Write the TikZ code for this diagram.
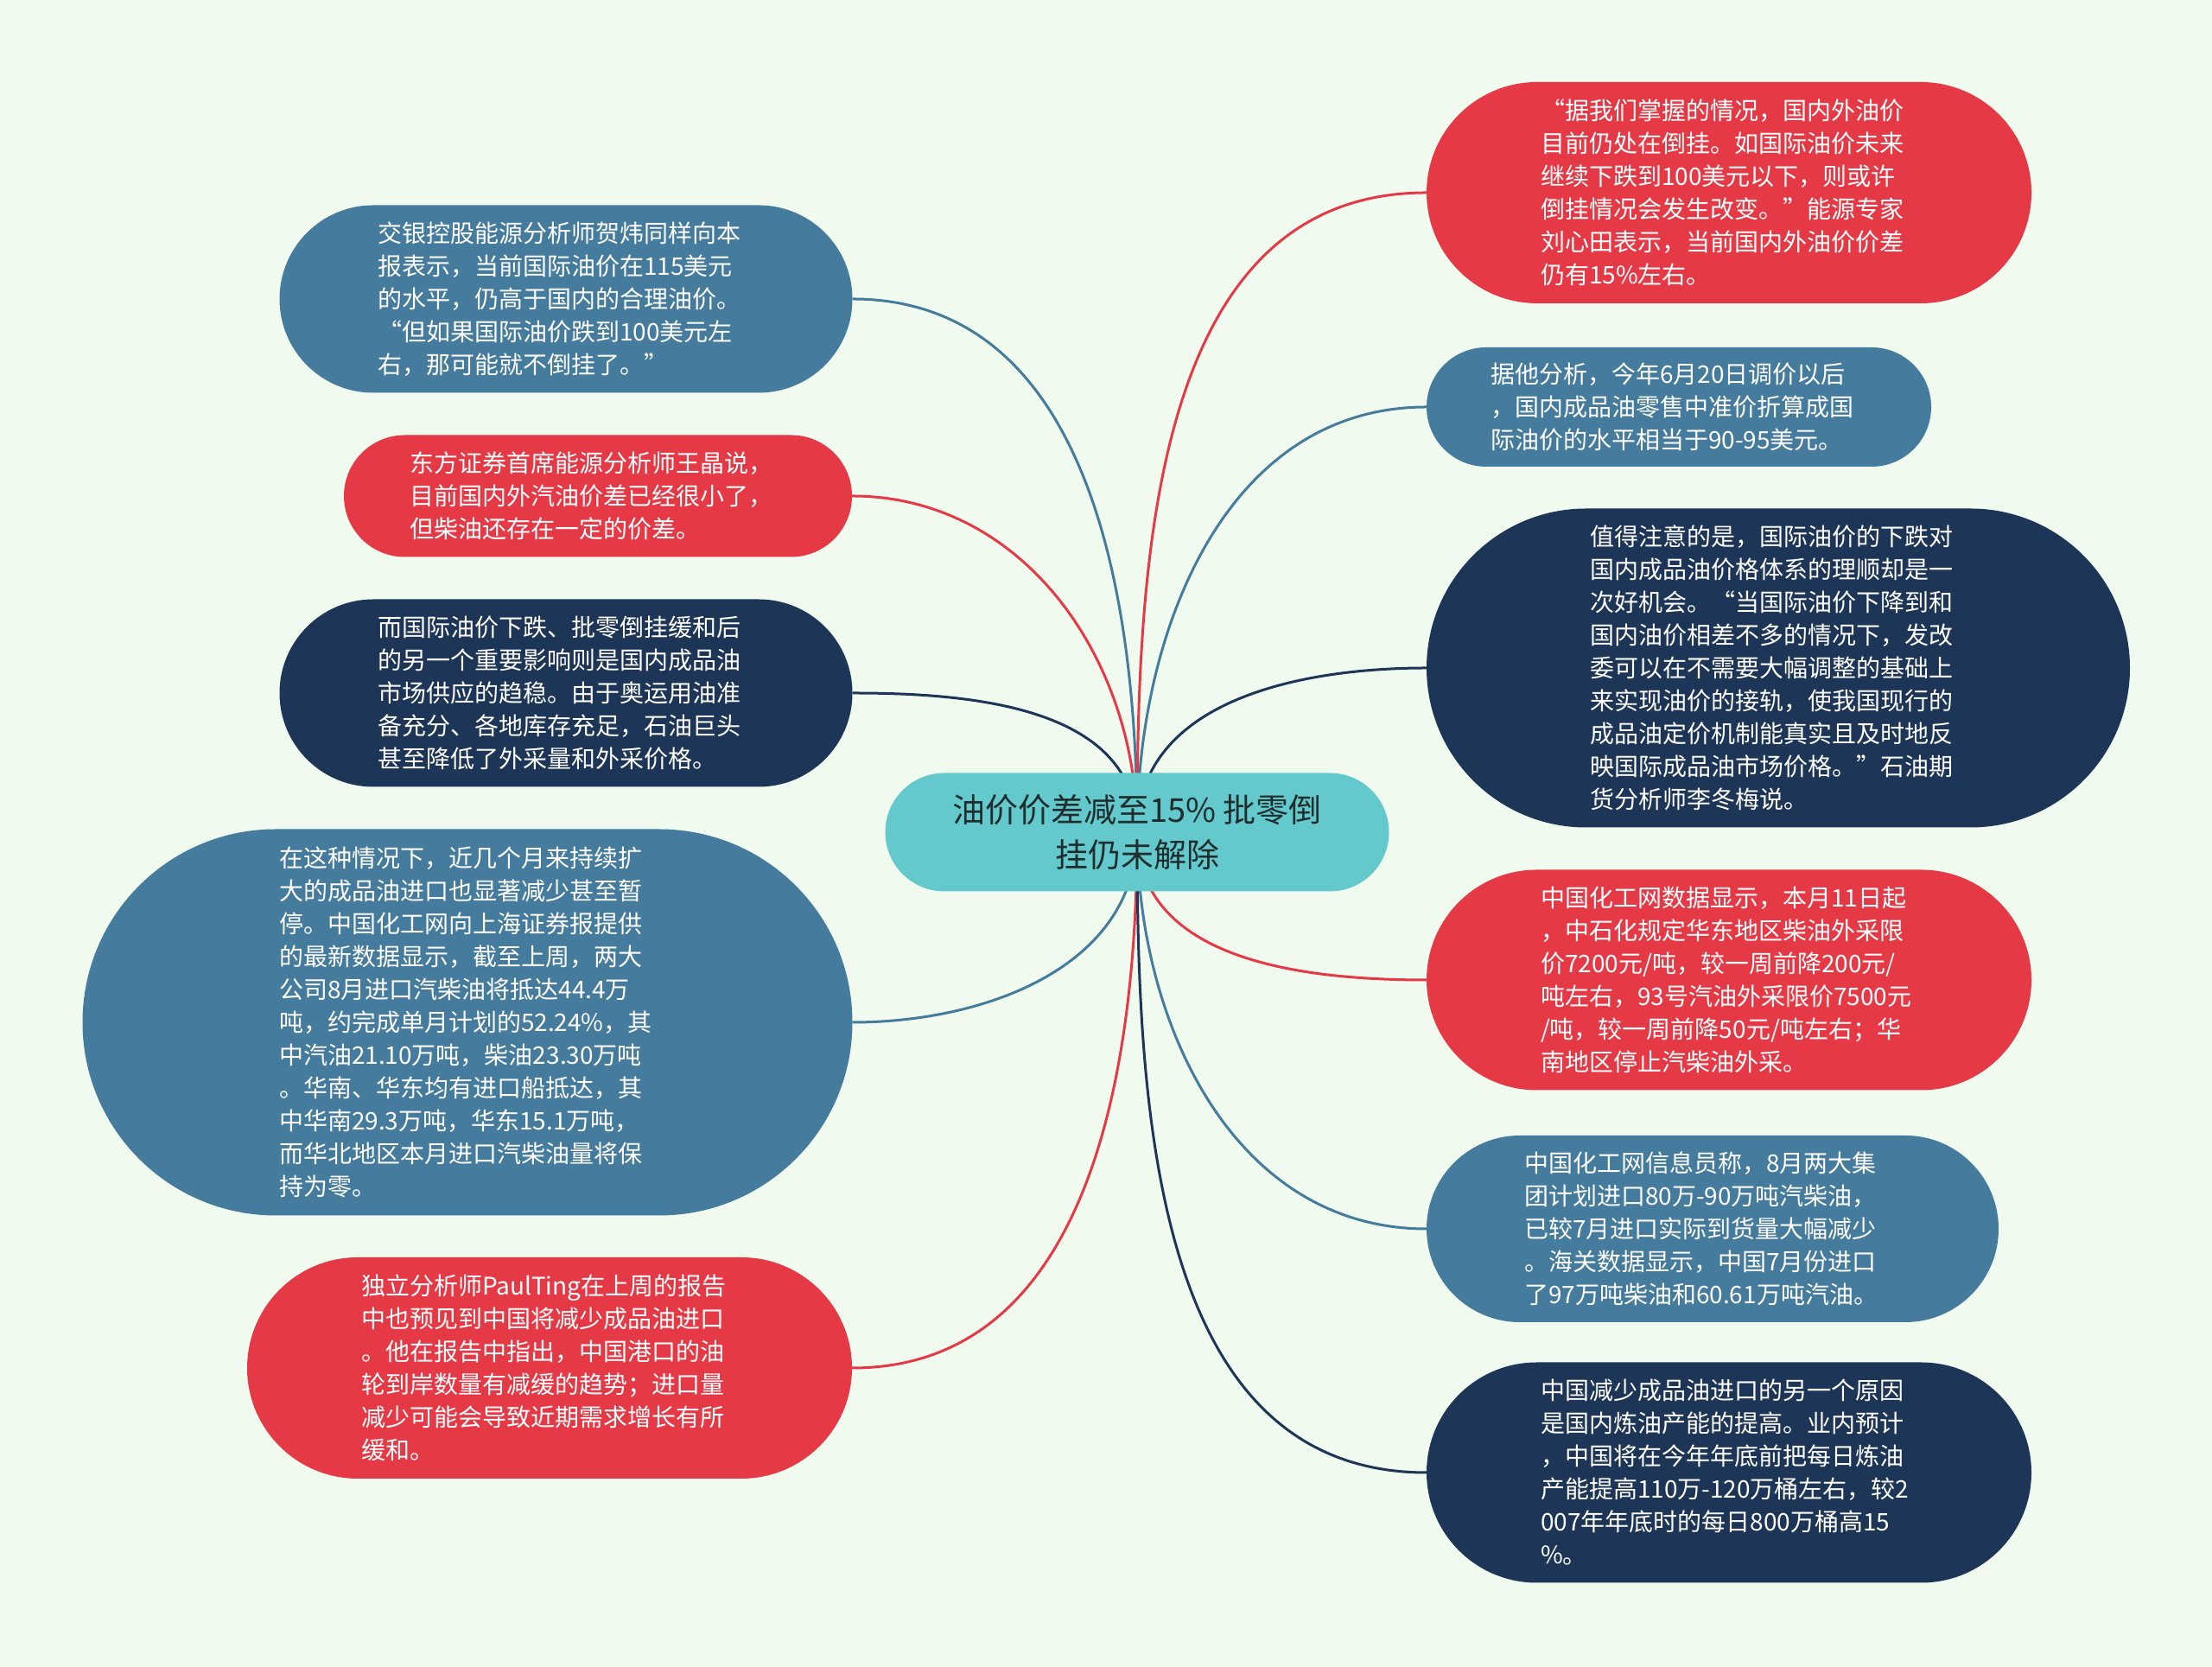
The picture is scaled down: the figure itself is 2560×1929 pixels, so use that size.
\documentclass[tikz,border=0pt]{standalone}
\usepackage{fontspec}
\setmainfont{Noto Sans CJK SC}
\usetikzlibrary{backgrounds}
\definecolor{bgc}{HTML}{F1FAEE}
\definecolor{redc}{HTML}{E63946}
\definecolor{bluec}{HTML}{457B9D}
\definecolor{navyc}{HTML}{1D3557}
\definecolor{tealc}{HTML}{63C9CC}
\definecolor{inkc}{HTML}{1F2D2D}
\begin{document}
\begin{tikzpicture}[x=1pt,y=1pt,
  box/.style 2 args={text=white, align=left, text width=436pt, inner sep=0pt, font=\fontsize{28}{38}\selectfont,
    minimum width=#1pt, minimum height=#2pt, rounded corners=#2pt/2},
  link/.style={line width=3pt}]
\useasboundingbox (0,0) rectangle (2560,1929);
\node [box={583}{137}, fill=tealc, text=inkc, text width=, align=center, font=\fontsize{38}{52}\selectfont] (c) at (1316,966)
  {油价价差减至15\% 批零倒\\挂仍未解除};
\node [box={663}{217}, fill=bluec] (l1) at (655,1583)
  {交银控股能源分析师贺炜同样向本\\报表示，当前国际油价在115美元\\的水平，仍高于国内的合理油价。\\“但如果国际油价跌到100美元左\\右，那可能就不倒挂了。”};
\node [box={588}{141}, fill=redc] (l2) at (692,1355)
  {东方证券首席能源分析师王晶说，\\目前国内外汽油价差已经很小了，\\但柴油还存在一定的价差。};
\node [box={663}{217}, fill=navyc] (l3) at (655,1127)
  {而国际油价下跌、批零倒挂缓和后\\的另一个重要影响则是国内成品油\\市场供应的趋稳。由于奥运用油准\\备充分、各地库存充足，石油巨头\\甚至降低了外采量和外采价格。};
\node [box={891}{447}, fill=bluec] (l4) at (541,746)
  {在这种情况下，近几个月来持续扩\\大的成品油进口也显著减少甚至暂\\停。中国化工网向上海证券报提供\\的最新数据显示，截至上周，两大\\公司8月进口汽柴油将抵达44.4万\\吨，约完成单月计划的52.24\%，其\\中汽油21.10万吨，柴油23.30万吨\\。华南、华东均有进口船抵达，其\\中华南29.3万吨，华东15.1万吨，\\而华北地区本月进口汽柴油量将保\\持为零。};
\node [box={700}{256}, fill=redc] (l5) at (636,346)
  {独立分析师PaulTing在上周的报告\\中也预见到中国将减少成品油进口\\。他在报告中指出，中国港口的油\\轮到岸数量有减缓的趋势；进口量\\减少可能会导致近期需求增长有所\\缓和。};
\node [box={700}{256}, fill=redc] (r1) at (2001,1706)
  {“据我们掌握的情况，国内外油价\\目前仍处在倒挂。如国际油价未来\\继续下跌到100美元以下，则或许\\倒挂情况会发生改变。”能源专家\\刘心田表示，当前国内外油价价差\\仍有15\%左右。};
\node [box={584}{138}, fill=bluec] (r2) at (1943,1458)
  {据他分析，今年6月20日调价以后\\，国内成品油零售中准价折算成国\\际油价的水平相当于90-95美元。};
\node [box={814}{369}, fill=navyc] (r3) at (2058,1156)
  {值得注意的是，国际油价的下跌对\\国内成品油价格体系的理顺却是一\\次好机会。“当国际油价下降到和\\国内油价相差不多的情况下，发改\\委可以在不需要大幅调整的基础上\\来实现油价的接轨，使我国现行的\\成品油定价机制能真实且及时地反\\映国际成品油市场价格。”石油期\\货分析师李冬梅说。};
\node [box={700}{255}, fill=redc] (r4) at (2001,795)
  {中国化工网数据显示，本月11日起\\，中石化规定华东地区柴油外采限\\价7200元/吨，较一周前降200元/\\吨左右，93号汽油外采限价7500元\\/吨，较一周前降50元/吨左右；华\\南地区停止汽柴油外采。};
\node [box={662}{216}, fill=bluec] (r5) at (1982,507)
  {中国化工网信息员称，8月两大集\\团计划进口80万-90万吨汽柴油，\\已较7月进口实际到货量大幅减少\\。海关数据显示，中国7月份进口\\了97万吨柴油和60.61万吨汽油。};
\node [box={700}{255}, fill=navyc] (r6) at (2001,225)
  {中国减少成品油进口的另一个原因\\是国内炼油产能的提高。业内预计\\，中国将在今年年底前把每日炼油\\产能提高110万-120万桶左右，较2\\007年年底时的每日800万桶高15\\\%。};
\begin{scope}[on background layer]
\fill [bgc] (0,0) rectangle (2560,1929);
\draw [link, bluec] (c.center) to[out=90,in=0] (l1.east);
\draw [link, redc] (c.center) to[out=90,in=0] (l2.east);
\draw [link, navyc] (c.center) to[out=90,in=0] (l3.east);
\draw [link, bluec] (c.center) to[out=-90,in=0] (l4.east);
\draw [link, redc] (c.center) to[out=-90,in=0] (l5.east);
\draw [link, redc] (c.center) to[out=90,in=180] (r1.west);
\draw [link, bluec] (c.center) to[out=90,in=180] (r2.west);
\draw [link, navyc] (c.center) to[out=90,in=180] (r3.west);
\draw [link, redc] (c.center) to[out=-90,in=180] (r4.west);
\draw [link, bluec] (c.center) to[out=-90,in=180] (r5.west);
\draw [link, navyc] (c.center) to[out=-90,in=180] (r6.west);
\end{scope}
\end{tikzpicture}
\end{document}
